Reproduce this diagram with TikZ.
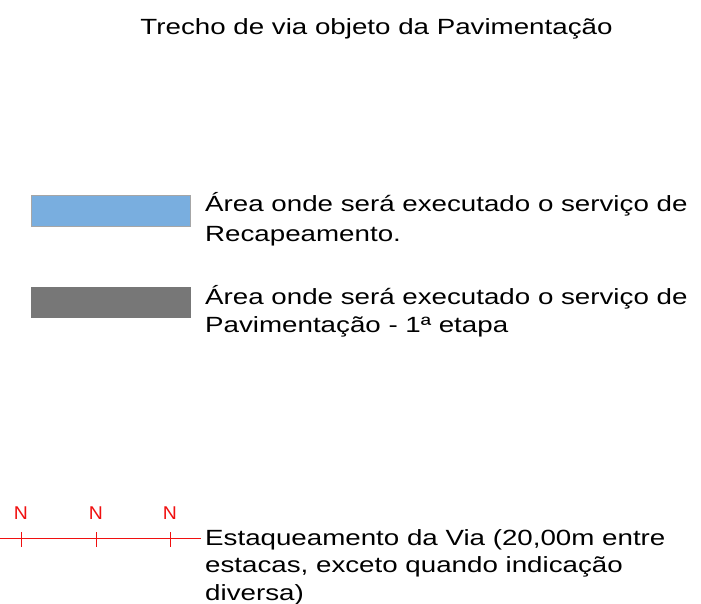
\documentclass[tikz,border=0pt]{standalone}
\usepackage{fontspec}
\setmainfont{Liberation Sans}[FakeStretch=1.26]
\newfontfamily\stakefont{Liberation Sans}[FakeStretch=1.05]

\definecolor{recapblue}{HTML}{79AEDF}
\definecolor{pavgray}{HTML}{777777}
\definecolor{stakered}{HTML}{F01010}

\tikzset{
	legtext/.style={anchor=base west, align=left, inner sep=0pt, font=\fontsize{22}{29}\selectfont},
	legbox/.style={draw=gray!70, line width=0.8pt},
	stakemark/.style={stakered, line width=0.9pt},
	stakelabel/.style={text=stakered, anchor=base, inner sep=0pt, font=\stakefont\fontsize{18.5}{20}\selectfont}
}

\begin{document}
\begin{tikzpicture}[x=1pt,y=-1pt]
		
		\useasboundingbox (0,0) rectangle (701,604);
		
		\node[anchor=base, inner sep=0pt, font=\fontsize{22}{26.5}\selectfont] (title) at (376.5,35) {Trecho de via objeto da Pavimentação};
		
		\filldraw[legbox, fill=recapblue] (31,195) rectangle (190,226);
		\node[legtext, font=\fontsize{22}{29.5}\selectfont] (recap) at (205,241) {Área onde será executado o serviço de\\Recapeamento.};
		
		\filldraw[legbox, draw=pavgray, fill=pavgray] (31,287) rectangle (190,317);
		\node[legtext, font=\fontsize{22}{28}\selectfont] (pavim) at (205,332.5) {Área onde será executado o serviço de\\Pavimentação - 1ª etapa};
		
		\coordinate (rulestart) at (0,538.5);
		\coordinate (ruleend) at (201,538.5);
		\draw[stakemark] (rulestart) -- (ruleend);
		\foreach \x in {21,96,170}{
			\draw[stakemark] (\x,532) -- (\x,546.5);
			\node[stakelabel] (n\x) at (\x,519.5) {N};
		}
		\node[legtext, font=\fontsize{22}{27.5}\selectfont] (estaq) at (205,600) {Estaqueamento da Via (20,00m entre\\estacas, exceto quando indicação\\diversa)};
		
	\end{tikzpicture}
\end{document}
